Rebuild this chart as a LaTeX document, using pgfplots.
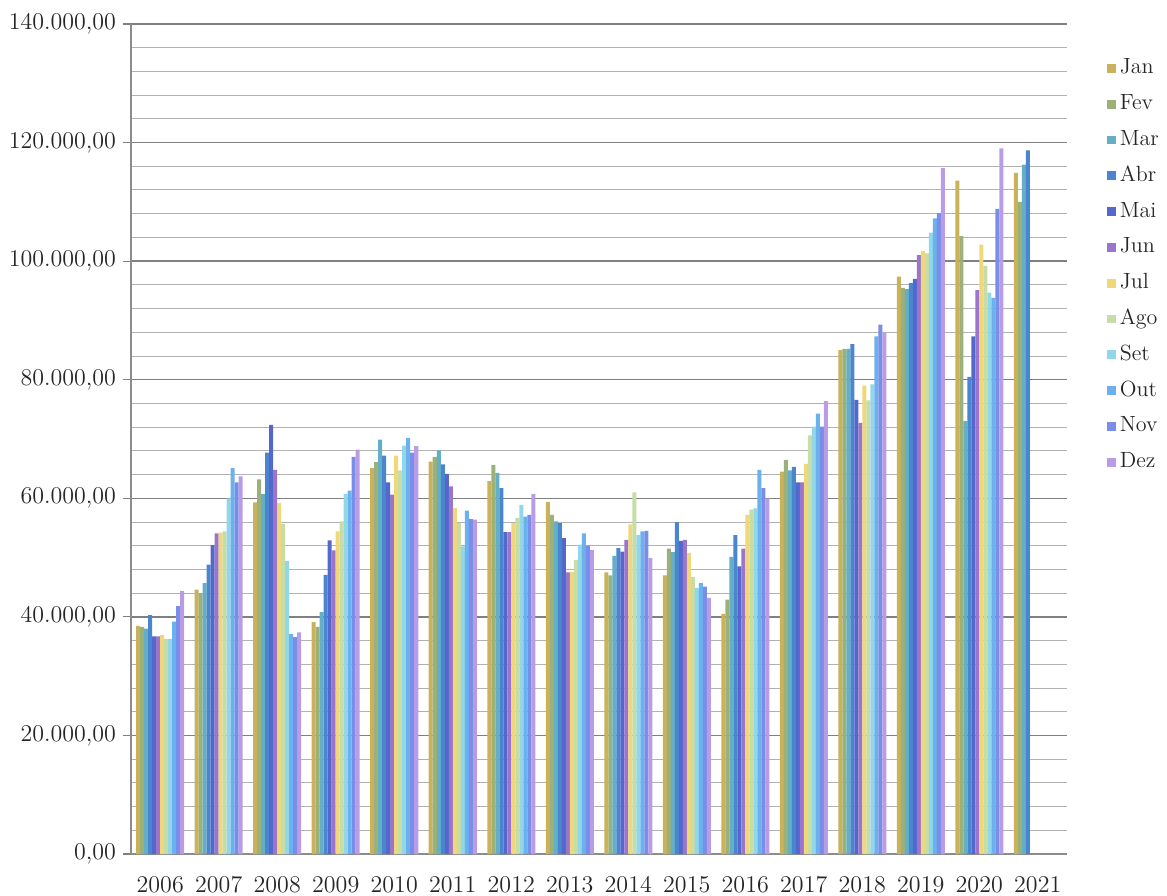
\documentclass[border=0pt]{standalone}
\usepackage{pgfplots}
\pgfplotsset{compat=1.18}
\usepackage{pgfplotstable}

\definecolor{cJan}{HTML}{C9B25A}
\definecolor{cFev}{HTML}{9CB17A}
\definecolor{cMar}{HTML}{63AFC8}
\definecolor{cAbr}{HTML}{4A86CF}
\definecolor{cMai}{HTML}{5468CC}
\definecolor{cJun}{HTML}{9B74CC}
\definecolor{cJul}{HTML}{F0D77A}
\definecolor{cAgo}{HTML}{C6DDA6}
\definecolor{cSet}{HTML}{92D6EA}
\definecolor{cOut}{HTML}{6AB1EE}
\definecolor{cNov}{HTML}{7A8DE8}
\definecolor{cDez}{HTML}{B89DE6}

\pgfplotstableread{
x  Jan    Fev    Mar    Abr    Mai    Jun    Jul    Ago    Set    Out    Nov    Dez
0  38500  38300  38000  40300  36700  36700  36900  36300  36300  39200  41800  44400
1  44600  44000  45700  48800  52100  54100  54200  54400  60000  65100  62700  63700
2  59300  63200  60700  67700  72400  64800  59200  55700  49400  37100  36600  37400
3  39100  38300  40800  47100  52900  51200  54400  56100  60700  61300  67000  68200
4  65100  66100  69900  67200  62700  60600  67200  64700  68900  70200  67700  68800
5  66200  67000  68100  65700  64100  62000  58400  55800  51900  57900  56500  56400
6  62900  65600  64300  61700  54300  54300  55800  56700  58900  56900  57200  60700
7  59400  57200  56100  55800  53300  47500  47600  49600  52200  54100  52000  51300
8  47500  47000  50300  51600  51000  53000  55600  61000  53800  54400  54500  49900
9  47000  51500  50900  56000  52800  53000  50800  46700  44900  45700  45100  43200
10 40500  42900  50100  53800  48500  51500  57200  58100  58300  64800  61700  60000
11 64500  66500  64700  65300  62700  62700  65800  70600  72100  74300  72100  76400
12 85000  85200  85200  86000  76600  72700  79000  76500  79200  87300  89300  87900
13 97400  95500  95300  96300  97000  101000 101700 101300 104800 107200 108100 115700
14 113600 104200 73000  80500  87300  95100  102800 99200  94700  93800  108800 119000
15 114900 110000 116300 118700 nan    nan    nan    nan    nan    nan    nan    nan
}\datatable

\begin{document}
\begin{tikzpicture}
\begin{axis}[
  name=ax,
  scale only axis, width=468pt, height=415pt,
  xmin=-0.5, xmax=15.5, ymin=0, ymax=140000,
  ybar=0pt, bar width=2pt,
  axis x line*=bottom, axis y line*=left,
  axis line style={draw=black!45, line width=0.6pt},
  xtick={0,...,15},
  xticklabels={2006,2007,2008,2009,2010,2011,2012,2013,2014,2015,2016,2017,2018,2019,2020,2021},
  xtick style={draw=none},
  xticklabel style={yshift=-3.5pt},
  ytick distance=20000, minor y tick num=4,
  ymajorgrids, yminorgrids,
  major grid style={draw=black!50, line width=0.7pt},
  minor grid style={draw=black!30, line width=0.5pt},
  tick align=outside, major tick length=4pt, minor tick length=0pt,
  ytick style={draw=black!50, line width=0.6pt},
  scaled y ticks=false,
  yticklabel style={/pgf/number format/.cd, fixed, fixed zerofill, precision=2, 1000 sep={.}, dec sep={,}, assume math mode=true},
  tick label style={font=\fontsize{12}{14}\selectfont, text=black!85},
  legend style={at={(1,1)}, anchor=north west, xshift=20pt, yshift=-16.75pt,
    draw=none, fill=none, inner sep=0pt, row sep=7.4pt,
    font=\fontsize{11}{13}\selectfont, text=black!85,
    nodes={text height=8pt, text depth=2.5pt, inner ysep=0pt, inner xsep=1.8pt}},
  legend cell align=left,
  legend image code/.code={\fill[#1] (0pt,-2.2pt) rectangle (4.4pt,2.2pt);},
]
\addplot[fill=cJan, draw=none] table[x=x, y=Jan] {\datatable};
\addplot[fill=cFev, draw=none] table[x=x, y=Fev] {\datatable};
\addplot[fill=cMar, draw=none] table[x=x, y=Mar] {\datatable};
\addplot[fill=cAbr, draw=none] table[x=x, y=Abr] {\datatable};
\addplot[fill=cMai, draw=none] table[x=x, y=Mai] {\datatable};
\addplot[fill=cJun, draw=none] table[x=x, y=Jun] {\datatable};
\addplot[fill=cJul, draw=none] table[x=x, y=Jul] {\datatable};
\addplot[fill=cAgo, draw=none] table[x=x, y=Ago] {\datatable};
\addplot[fill=cSet, draw=none] table[x=x, y=Set] {\datatable};
\addplot[fill=cOut, draw=none] table[x=x, y=Out] {\datatable};
\addplot[fill=cNov, draw=none] table[x=x, y=Nov] {\datatable};
\addplot[fill=cDez, draw=none] table[x=x, y=Dez] {\datatable};
\legend{Jan,Fev,Mar,Abr,Mai,Jun,Jul,Ago,Set,Out,Nov,Dez}
\end{axis}
\pgfresetboundingbox
\path[use as bounding box] ([xshift=-65.5pt,yshift=-20.5pt]ax.south west) rectangle ([xshift=50pt,yshift=12pt]ax.north east);
\end{tikzpicture}
\end{document}
